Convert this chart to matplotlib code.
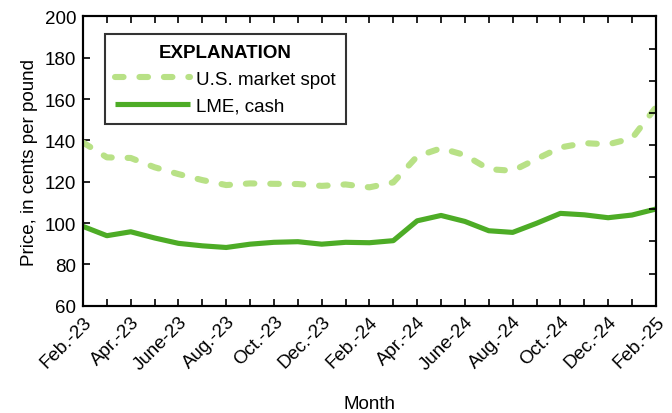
import matplotlib.pyplot as plt
from matplotlib.ticker import MultipleLocator, NullFormatter

plt.rcParams['font.family'] = ['Liberation Sans', 'DejaVu Sans']

months = ['Feb.-23', 'Mar.-23', 'Apr.-23', 'May-23', 'June-23', 'July-23', 'Aug.-23',
          'Sept.-23', 'Oct.-23', 'Nov.-23', 'Dec.-23', 'Jan.-24', 'Feb.-24', 'Mar.-24',
          'Apr.-24', 'May-24', 'June-24', 'July-24', 'Aug.-24', 'Sept.-24', 'Oct.-24',
          'Nov.-24', 'Dec.-24', 'Jan.-25', 'Feb.-25']
us_spot = [139, 131.8, 131.5, 127, 123.7, 120.8, 118.4, 119.2, 119, 118.9, 118, 118.7,
           117.3, 119.7, 132.3, 136.2, 132.9, 126.1, 125.3, 131, 136.6, 138.7, 138.1,
           141, 156]
lme_cash = [98.4, 93.9, 95.8, 92.8, 90.2, 89, 88.2, 89.8, 90.7, 91, 89.8, 90.7, 90.5,
            91.5, 101.1, 103.7, 100.8, 96.3, 95.5, 99.9, 104.7, 104, 102.6, 103.9, 106.8]

x = list(range(len(months)))

fig = plt.figure(figsize=(6.72, 4.14), dpi=100)
ax = fig.add_axes([0.1235, 0.259, 0.8525, 0.699])

ax.plot(x, us_spot, color='#b8e186', lw=4.4, ls=(0, (1.4, 2.6)),
        dash_capstyle='round', label='U.S. market spot')
ax.plot(x, lme_cash, color='#4dac26', lw=3.7, solid_capstyle='butt',
        label='LME, cash')

ax.set_xlim(0, len(months) - 1)
ax.set_ylim(60, 200)
ax.yaxis.set_major_locator(MultipleLocator(20))
ax.set_xticks(x)
ax.set_xticklabels([m if i % 2 == 0 else '' for i, m in enumerate(months)],
                   rotation=45, ha='right', rotation_mode='anchor')

ax.tick_params(axis='both', direction='in', length=5, width=1.2, labelsize=13.5)
ax.tick_params(axis='x', top=True, pad=5)
ax.tick_params(axis='y', pad=5)

# unlabelled right-hand ticks
ax2 = ax.twinx()
ax2.set_ylim(0, 9)
ax2.yaxis.set_major_locator(MultipleLocator(1))
ax2.yaxis.set_major_formatter(NullFormatter())
ax2.tick_params(direction='in', length=5, width=1.2)

for a in (ax, ax2):
    for s in a.spines.values():
        s.set_linewidth(1.5)

ax.set_ylabel('Price, in cents per pound', fontsize=13.5, labelpad=5)
ax.set_xlabel('Month', fontsize=13.5, labelpad=16)

leg = ax.legend(loc='upper left', bbox_to_anchor=(0.038, 0.94), title='EXPLANATION',
                fontsize=13.5, title_fontproperties={'weight': 'bold', 'size': 13.5},
                frameon=True, fancybox=False, edgecolor='black', handlelength=4.0,
                handletextpad=0.3, borderpad=0.55, labelspacing=0.5, borderaxespad=0)
leg.get_frame().set_linewidth(1.5)

fig.savefig('out.png', dpi=100)
